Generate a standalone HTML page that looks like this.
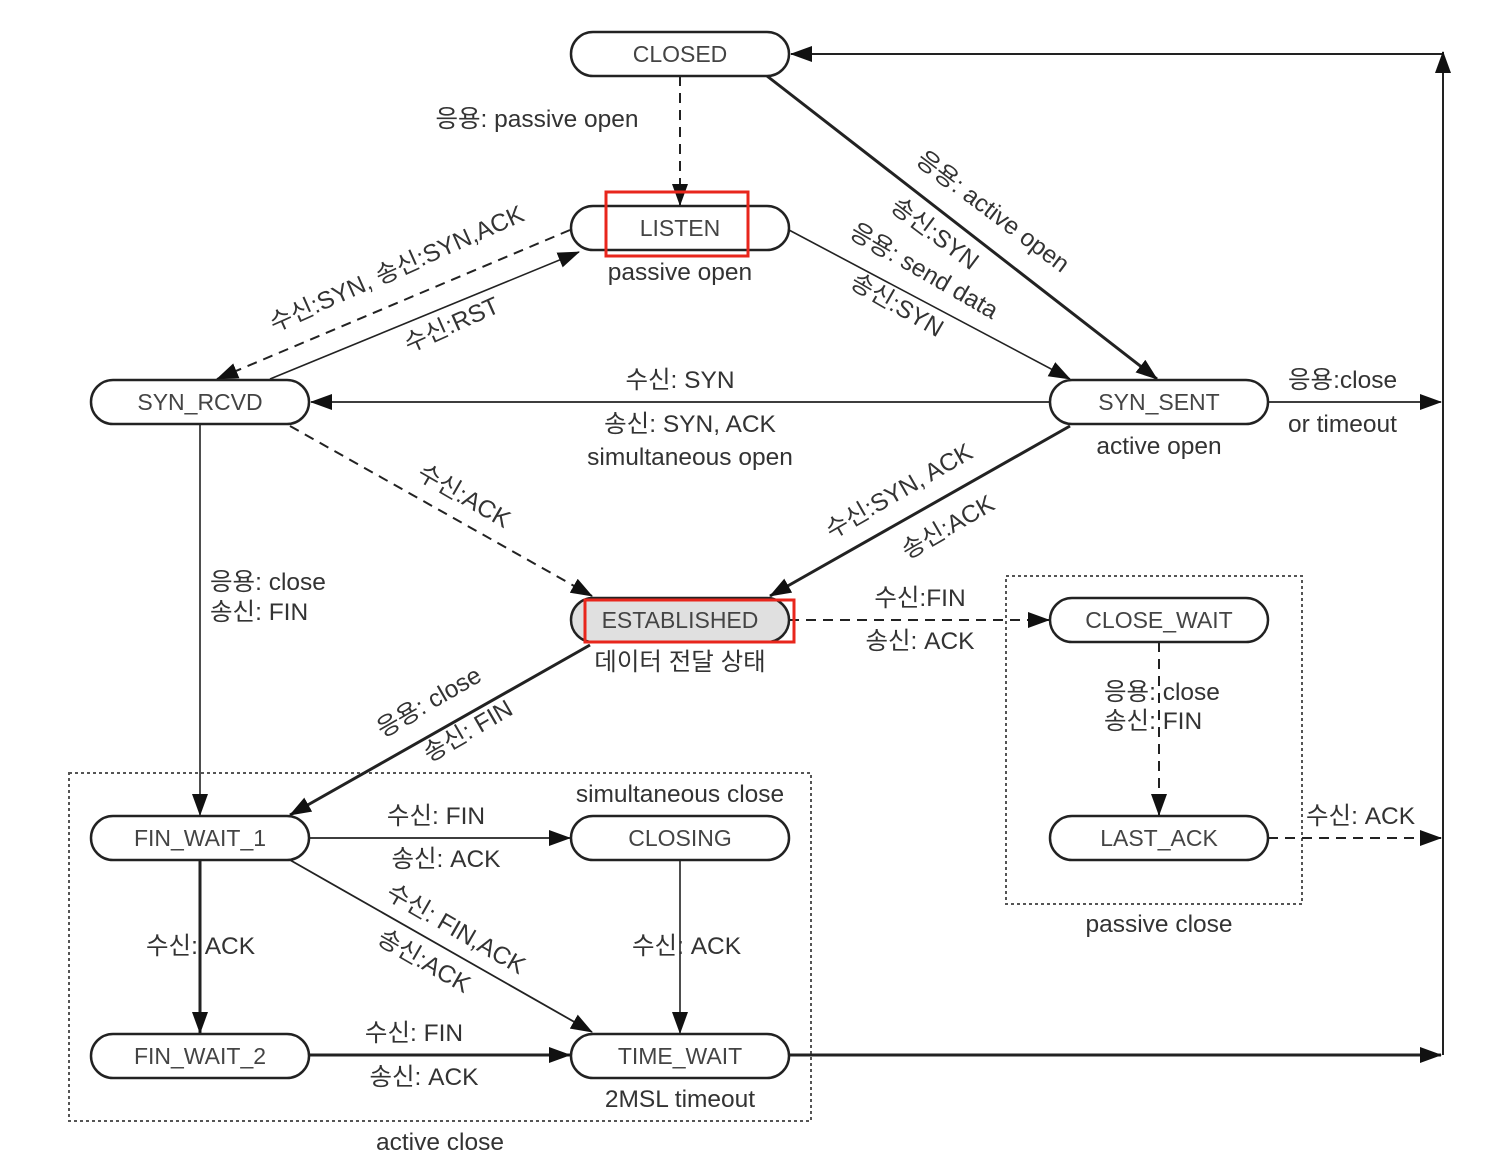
<!DOCTYPE html>
<html><head><meta charset="utf-8"><style>
html,body{margin:0;padding:0;background:#fff;}
svg{display:block;}
text{font-family:"Liberation Sans","Noto Sans CJK KR","NanumGothic",sans-serif;fill:#333;font-size:24.5px;}
.n{fill:#444;font-size:23px;text-anchor:middle;}
.c{text-anchor:middle;}
</style></head><body>
<svg width="1496" height="1165" viewBox="0 0 1496 1165" xmlns="http://www.w3.org/2000/svg">
<defs>
<marker id="b" markerWidth="22" markerHeight="16" refX="21" refY="8" orient="auto" markerUnits="userSpaceOnUse"><path d="M0,0 L22,8 L0,16 z" fill="#111"/></marker>
</defs>
<g fill="none" stroke="#222">
<rect x="69" y="773" width="742" height="348" stroke-dasharray="3,3" stroke-width="2" stroke="#555"/>
<rect x="1006" y="576" width="296" height="328" stroke-dasharray="3,3" stroke-width="2" stroke="#555"/>
<line x1="680" y1="76" x2="680" y2="205" stroke-dasharray="10,7" stroke-width="2" marker-end="url(#b)"/>
<line x1="1443" y1="54" x2="791" y2="54" stroke-width="2" marker-end="url(#b)"/>
<line x1="1443" y1="1055" x2="1443" y2="54" stroke-width="2"/>
<line x1="1443" y1="60" x2="1443" y2="52" stroke-width="2" marker-end="url(#b)"/>
<line x1="767" y1="76" x2="1157" y2="379" stroke-width="3" marker-end="url(#b)"/>
<line x1="789" y1="230" x2="1070" y2="379" stroke-width="1.6" marker-end="url(#b)"/>
<line x1="570" y1="230" x2="217" y2="379" stroke-dasharray="10,7" stroke-width="2" marker-end="url(#b)"/>
<line x1="270" y1="379" x2="579" y2="252" stroke-width="1.6" marker-end="url(#b)"/>
<line x1="1050" y1="402" x2="311" y2="402" stroke-width="1.8" marker-end="url(#b)"/>
<line x1="1268" y1="402" x2="1441" y2="402" stroke-width="1.8" marker-end="url(#b)"/>
<line x1="290" y1="426" x2="592" y2="596" stroke-dasharray="10,7" stroke-width="2" marker-end="url(#b)"/>
<line x1="1070" y1="426" x2="770" y2="596" stroke-width="3" marker-end="url(#b)"/>
<line x1="200" y1="424" x2="200" y2="815" stroke-width="1.6" marker-end="url(#b)"/>
<line x1="590" y1="645" x2="290" y2="815" stroke-width="3" marker-end="url(#b)"/>
<line x1="789" y1="620" x2="1049" y2="620" stroke-dasharray="10,7" stroke-width="2" marker-end="url(#b)"/>
<line x1="1159" y1="642" x2="1159" y2="815" stroke-dasharray="10,7" stroke-width="2" marker-end="url(#b)"/>
<line x1="1268" y1="838" x2="1441" y2="838" stroke-dasharray="10,7" stroke-width="2" marker-end="url(#b)"/>
<line x1="309" y1="838" x2="570" y2="838" stroke-width="1.8" marker-end="url(#b)"/>
<line x1="200" y1="860" x2="200" y2="1033" stroke-width="3" marker-end="url(#b)"/>
<line x1="680" y1="860" x2="680" y2="1033" stroke-width="1.6" marker-end="url(#b)"/>
<line x1="290" y1="860" x2="592" y2="1032" stroke-width="1.8" marker-end="url(#b)"/>
<line x1="309" y1="1055" x2="570" y2="1055" stroke-width="3" marker-end="url(#b)"/>
<line x1="789" y1="1055" x2="1441" y2="1055" stroke-width="3" marker-end="url(#b)"/>
<g stroke="#222" stroke-width="2.5" fill="#fff">
<rect x="571" y="32" width="218" height="44" rx="22"/>
<rect x="571" y="206" width="218" height="44" rx="22"/>
<rect x="91" y="380" width="218" height="44" rx="22"/>
<rect x="1050" y="380" width="218" height="44" rx="22"/>
<rect x="571" y="598" width="218" height="44" rx="22" fill="#e0e0e0"/>
<rect x="1050" y="598" width="218" height="44" rx="22"/>
<rect x="91" y="816" width="218" height="44" rx="22"/>
<rect x="571" y="816" width="218" height="44" rx="22"/>
<rect x="1050" y="816" width="218" height="44" rx="22"/>
<rect x="91" y="1034" width="218" height="44" rx="22"/>
<rect x="571" y="1034" width="218" height="44" rx="22"/>
</g>
<rect x="606" y="192" width="142" height="64" stroke="#e8261c" stroke-width="3"/>
<rect x="585" y="600" width="209" height="42" stroke="#e8261c" stroke-width="3"/>
</g>
<text class="n" x="680" y="62">CLOSED</text>
<text class="n" x="680" y="236">LISTEN</text>
<text class="n" x="200" y="410">SYN_RCVD</text>
<text class="n" x="1159" y="410">SYN_SENT</text>
<text class="n" x="680" y="628">ESTABLISHED</text>
<text class="n" x="1159" y="628">CLOSE_WAIT</text>
<text class="n" x="200" y="846">FIN_WAIT_1</text>
<text class="n" x="680" y="846">CLOSING</text>
<text class="n" x="1159" y="846">LAST_ACK</text>
<text class="n" x="200" y="1064">FIN_WAIT_2</text>
<text class="n" x="680" y="1064">TIME_WAIT</text>

<text class="c" x="537" y="127">응용: passive open</text>
<text class="c" x="680" y="280">passive open</text>
<text class="c" x="680" y="388">수신: SYN</text>
<text class="c" x="690" y="432">송신: SYN, ACK</text>
<text class="c" x="690" y="465">simultaneous open</text>
<text class="c" x="1159" y="454">active open</text>
<text x="1288" y="388">응용:close</text>
<text x="1288" y="432">or timeout</text>
<text x="210" y="590">응용: close</text>
<text x="210" y="620">송신: FIN</text>
<text class="c" x="680" y="670">데이터 전달 상태</text>
<text class="c" x="920" y="606">수신:FIN</text>
<text class="c" x="920" y="649">송신: ACK</text>
<text x="1104" y="700">응용: close</text>
<text x="1104" y="729">송신: FIN</text>
<text x="1306" y="824">수신: ACK</text>
<text class="c" x="1159" y="932">passive close</text>
<text class="c" x="680" y="802">simultaneous close</text>
<text class="c" x="436" y="824">수신: FIN</text>
<text class="c" x="446" y="867">송신: ACK</text>
<text x="146" y="954">수신: ACK</text>
<text x="632" y="954">수신: ACK</text>
<text class="c" x="414" y="1041">수신: FIN</text>
<text class="c" x="424" y="1085">송신: ACK</text>
<text class="c" x="680" y="1107">2MSL timeout</text>
<text class="c" x="440" y="1150">active close</text>

<text class="c" transform="translate(988,218) rotate(37)">응용: active open</text>
<text class="c" transform="translate(930,240) rotate(37)">송신:SYN</text>
<text class="c" transform="translate(920,278) rotate(30)">응용: send data</text>
<text class="c" transform="translate(893,312) rotate(30)">송신:SYN</text>
<text class="c" transform="translate(400,276) rotate(-24)">수신:SYN, 송신:SYN,ACK</text>
<text class="c" transform="translate(455,332) rotate(-24)">수신:RST</text>
<text class="c" transform="translate(460,503) rotate(30)">수신:ACK</text>
<text class="c" transform="translate(903,498) rotate(-30)">수신:SYN, ACK</text>
<text class="c" transform="translate(952,534) rotate(-30)">송신:ACK</text>
<text class="c" transform="translate(433,709) rotate(-30)">응용: close</text>
<text class="c" transform="translate(472,738) rotate(-30)">송신: FIN</text>
<text class="c" transform="translate(452,936) rotate(30)">수신: FIN,ACK</text>
<text class="c" transform="translate(420,968) rotate(30)">송신:ACK</text>
</svg>
</body></html>
